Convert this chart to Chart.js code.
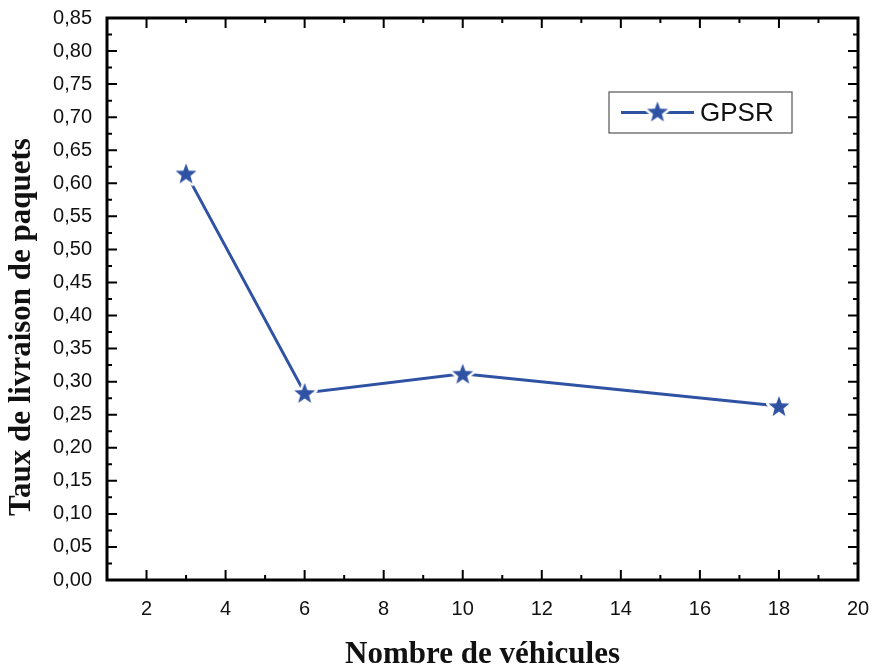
<!DOCTYPE html>
<html>
<head>
<meta charset="utf-8">
<script src="https://cdn.jsdelivr.net/npm/chart.js@4"></script>
<style>
  html, body { margin: 0; padding: 0; background: #fff; }
  #wrap { width: 877px; height: 668px; }
</style>
</head>
<body>
<div id="wrap"><canvas id="chart" width="877" height="668"></canvas></div>
<script>
// data
const vehicles = [3, 6, 10, 18];
const deliveryRate = [0.615, 0.283, 0.312, 0.263];
const seriesName = "GPSR";
const xTitle = "Nombre de véhicules";
const yTitle = "Taux de livraison de paquets";
const xTicks = [2, 4, 6, 8, 10, 12, 14, 16, 18, 20];
const yTicks = [0, 0.05, 0.1, 0.15, 0.2, 0.25, 0.3, 0.35, 0.4, 0.45, 0.5, 0.55, 0.6, 0.65, 0.7, 0.75, 0.8, 0.85];

const blue = "#2f52a3";
const titleFont = "bold 31px 'Liberation Serif', 'Times New Roman', serif";

// filled 5-point star with a white halo (gives the little gap round the marker)
function makeStar(r) {
  const c = document.createElement("canvas");
  const s = Math.ceil(r * 2 + 8);
  c.width = s; c.height = s;
  const g = c.getContext("2d");
  g.translate(s / 2, s / 2 + 1);
  g.beginPath();
  for (let i = 0; i < 10; i++) {
    const rad = i % 2 === 0 ? r : r * 0.42;
    const a = -Math.PI / 2 + i * Math.PI / 5;
    g.lineTo(rad * Math.cos(a), rad * Math.sin(a));
  }
  g.closePath();
  g.strokeStyle = "#fff";
  g.lineWidth = 5;
  g.lineJoin = "round";
  g.stroke();
  g.fillStyle = blue;
  g.fill();
  return c;
}
const star = makeStar(11);

//inward ticks on all four sides + frame
const frameTicks = {
  id: "frameTicks",
  afterDraw(chart) {
    const { ctx, chartArea: a, scales } = chart;
    const x = scales.x, y = scales.y;
    ctx.save();
    ctx.strokeStyle = "#000";
    ctx.lineWidth = 2;
    const major = 10, minor = 5;
    // x ticks, majors every 2, minors on odd values
    for (let v = Math.ceil(x.min); v <= x.max; v++) {
      const px = x.getPixelForValue(v);
      const len = v % 2 === 0 ? major : minor;
      ctx.beginPath();
      ctx.moveTo(px, a.bottom); ctx.lineTo(px, a.bottom - len);
      ctx.moveTo(px, a.top); ctx.lineTo(px, a.top + len);
      ctx.stroke();
    }
    // y ticks, majors every 0.05, minors in between
    for (let i = 0; i <= 34; i++) {
      const py = y.getPixelForValue(i * 0.025);
      const len = i % 2 === 0 ? major : minor;
      ctx.beginPath();
      ctx.moveTo(a.left, py); ctx.lineTo(a.left + len, py);
      ctx.moveTo(a.right, py); ctx.lineTo(a.right - len, py);
      ctx.stroke();
    }
    ctx.lineWidth = 3;
    ctx.strokeRect(a.left, a.top, a.right - a.left, a.bottom - a.top);

    // y title sits a bit below the middle of the axis in the original
    ctx.fillStyle = "#111";
    ctx.font = titleFont;
    ctx.textAlign = "center";
    ctx.textBaseline = "middle";
    ctx.translate(22, (a.top + a.bottom) / 2 + 28);
    ctx.rotate(-Math.PI / 2);
    ctx.fillText(yTitle, 0, 0);
    ctx.restore();
  }
};

// boxed legend in the upper right
const boxLegend = {
  id: "boxLegend",
  afterDraw(chart) {
    const { ctx } = chart;
    const bx = 609, by = 92, bw = 183, bh = 41;
    ctx.save();
    ctx.fillStyle = "#fff";
    ctx.fillRect(bx, by, bw, bh);
    ctx.strokeStyle = "#555";
    ctx.lineWidth = 1.2;
    ctx.strokeRect(bx, by, bw, bh);
    const cy = by + bh / 2;
    ctx.strokeStyle = blue;
    ctx.lineWidth = 3;
    ctx.beginPath();
    ctx.moveTo(bx + 12, cy); ctx.lineTo(bx + 85, cy);
    ctx.stroke();
    ctx.drawImage(star, bx + 48.5 - star.width / 2, cy - star.height / 2 - 1);
    ctx.fillStyle = "#111";
    ctx.font = "26px 'Liberation Sans', Arial, sans-serif";
    ctx.textBaseline = "middle";
    ctx.fillText(chart.data.datasets[0].label, bx + 91, cy + 1);
    ctx.restore();
  }
};

const comma = v => Number(v).toFixed(2).replace(".", ",");

new Chart(document.getElementById("chart"), {
  type: "line",
  data: {
    datasets: [{
      label: seriesName,
      data: vehicles.map((v, i) => ({ x: v, y: deliveryRate[i] })),
      borderColor: blue,
      backgroundColor: blue,
      borderWidth: 3,
      pointStyle: star,
      pointRadius: 11,
      tension: 0,
    }],
  },
  plugins: [frameTicks, boxLegend],
  options: {
    responsive: false,
    animation: false,
    layout: { padding: { top: 18, right: 19, left: 0, bottom: 0 } },
    plugins: { legend: { display: false }, tooltip: { enabled: false } },
    scales: {
      x: {
        type: "linear",
        min: 1,
        max: 20,
        afterBuildTicks: s => { s.ticks = xTicks.map(v => ({ value: v })); },
        afterFit: s => {
          s.height = 88;
          s.paddingLeft = 0; s.paddingRight = 0;
        },
        grid: { display: false, drawTicks: false },
        border: { display: false },
        ticks: {
          color: "#111",
          font: { family: "'Liberation Sans', Arial", size: 20 },
          padding: 17,
          maxRotation: 0,
        },
        title: {
          display: true,
          text: xTitle,
          color: "#111",
          font: { family: "'Liberation Serif', 'Times New Roman'", size: 31, weight: "bold", lineHeight: 1 },
          padding: { top: 16, bottom: -2 },
        },
      },
      y: {
        min: 0,
        max: 0.85,
        afterBuildTicks: s => { s.ticks = yTicks.map(v => ({ value: v })); },
        afterFit: s => {
          s.width = 107;
          s.paddingTop = 0; s.paddingBottom = 0;
        },
        grid: { display: false, drawTicks: false },
        border: { display: false },
        ticks: {
          color: "#111",
          font: { family: "'Liberation Sans', Arial", size: 20 },
          padding: 15,
          callback: v => comma(v),
        },
      },
    },
  },
});
</script>
</body>
</html>
